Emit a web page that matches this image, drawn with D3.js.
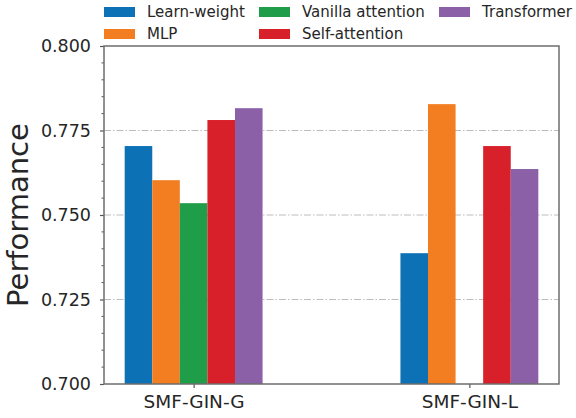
<!DOCTYPE html>
<html>
<head>
<meta charset="utf-8">
<script src="https://cdn.jsdelivr.net/npm/d3@7.9.0/dist/d3.min.js"></script>
<style>
  body { margin: 0; background: #fff; }
  svg { display: block; font-family: "DejaVu Sans", sans-serif; }
</style>
</head>
<body>
<svg width="576" height="418"></svg>
<script>
const groups = ['SMF-GIN-G', 'SMF-GIN-L'];
const methods = ['Learn-weight', 'MLP', 'Vanilla attention', 'Self-attention', 'Transformer'];
const learnWeight = [0.7704, 0.7387];
const mlp = [0.7603, 0.7828];
const vanillaAttention = [0.7535, null];
const selfAttention = [0.7781, 0.7704];
const transformer = [0.7816, 0.7636];
const yTicks = [0.700, 0.725, 0.750, 0.775, 0.800];
const colors = ['#0c71b5', '#f37e22', '#1f9d48', '#d8202a', '#8b60a6'];

const series = [learnWeight, mlp, vanillaAttention, selfAttention, transformer];
const barWidth = 0.1;

const svg = d3.select('svg');
const plotL = 104, plotR = 559, plotT = 46, plotB = 384;
const textColor = '#262626';

const x = d3.scaleLinear().domain([-0.325, 1.325]).range([plotL, plotR]);
const y = d3.scaleLinear().domain([0.7, 0.8]).range([plotB, plotT]);

// grid
svg.append('g')
  .selectAll('line')
  .data(yTicks.slice(1, -1))
  .join('line')
  .attr('x1', plotL).attr('x2', plotR)
  .attr('y1', d => y(d)).attr('y2', d => y(d))
  .attr('stroke', '#bdbdbd')
  .attr('stroke-width', 1)
  .attr('stroke-dasharray', '7,2,1.5,2');

// bars
series.forEach((vals, i) => {
  const offset = (i - 2) * barWidth;
  svg.append('g')
    .selectAll('rect')
    .data(vals.map((v, g) => ({ v, g })).filter(d => d.v !== null))
    .join('rect')
    .attr('x', d => x(d.g + offset - barWidth / 2))
    .attr('width', x(barWidth) - x(0))
    .attr('y', d => y(d.v))
    .attr('height', d => y(0.7) - y(d.v))
    .attr('fill', colors[i]);
});

// y axis
const yAxis = d3.axisLeft(y)
  .tickValues(yTicks)
  .tickFormat(d3.format('.3f'))
  .tickSize(4)
  .tickPadding(9);
const yg = svg.append('g').attr('transform', `translate(${plotL},0)`).call(yAxis);
yg.select('.domain').remove();
yg.selectAll('line').attr('stroke', '#555').attr('stroke-width', 1.2);
yg.selectAll('text').attr('font-size', 17.5).attr('fill', textColor).attr('font-family', 'DejaVu Sans');

// minor y ticks
const minor = d3.range(0.705, 0.8, 0.005).filter(v => Math.abs(Math.round(v * 40) - v * 40) > 0.01);
svg.append('g')
  .selectAll('line')
  .data(minor)
  .join('line')
  .attr('x1', plotL - 2.5).attr('x2', plotL)
  .attr('y1', d => y(d)).attr('y2', d => y(d))
  .attr('stroke', '#555').attr('stroke-width', 1);

// x axis
const xAxis = d3.axisBottom(x)
  .tickValues([0, 1])
  .tickFormat(i => groups[i])
  .tickSize(4)
  .tickPadding(7);
const xg = svg.append('g').attr('transform', `translate(0,${plotB})`).call(xAxis);
xg.select('.domain').remove();
xg.selectAll('line').attr('stroke', '#555').attr('stroke-width', 1.2);
xg.selectAll('text').attr('font-size', 18.5).attr('fill', textColor).attr('font-family', 'DejaVu Sans');

// frame
svg.append('rect')
  .attr('x', plotL).attr('y', plotT)
  .attr('width', plotR - plotL).attr('height', plotB - plotT)
  .attr('fill', 'none')
  .attr('stroke', '#6e6e6e')
  .attr('stroke-width', 1.5);

// y label
svg.append('text')
  .attr('transform', `translate(28,${(plotT + plotB) / 2}) rotate(-90)`)
  .attr('text-anchor', 'middle')
  .attr('font-size', 29)
  .attr('fill', textColor)
  .text('Performance');

// legend, 3 columns filled column by column
const colX = [104, 259, 439];
const rowY = [12, 34];
const legend = svg.append('g');
methods.forEach((m, i) => {
  const col = Math.floor(i / 2), row = i % 2;
  const g = legend.append('g').attr('transform', `translate(${colX[col]},${rowY[row]})`);
  g.append('rect')
    .attr('x', 0).attr('y', -5)
    .attr('width', 31).attr('height', 10)
    .attr('fill', colors[i]);
  g.append('text')
    .attr('x', 43).attr('y', 0)
    .attr('dy', '0.35em')
    .attr('font-size', 15)
    .attr('fill', textColor)
    .text(m);
});
</script>
</body>
</html>
